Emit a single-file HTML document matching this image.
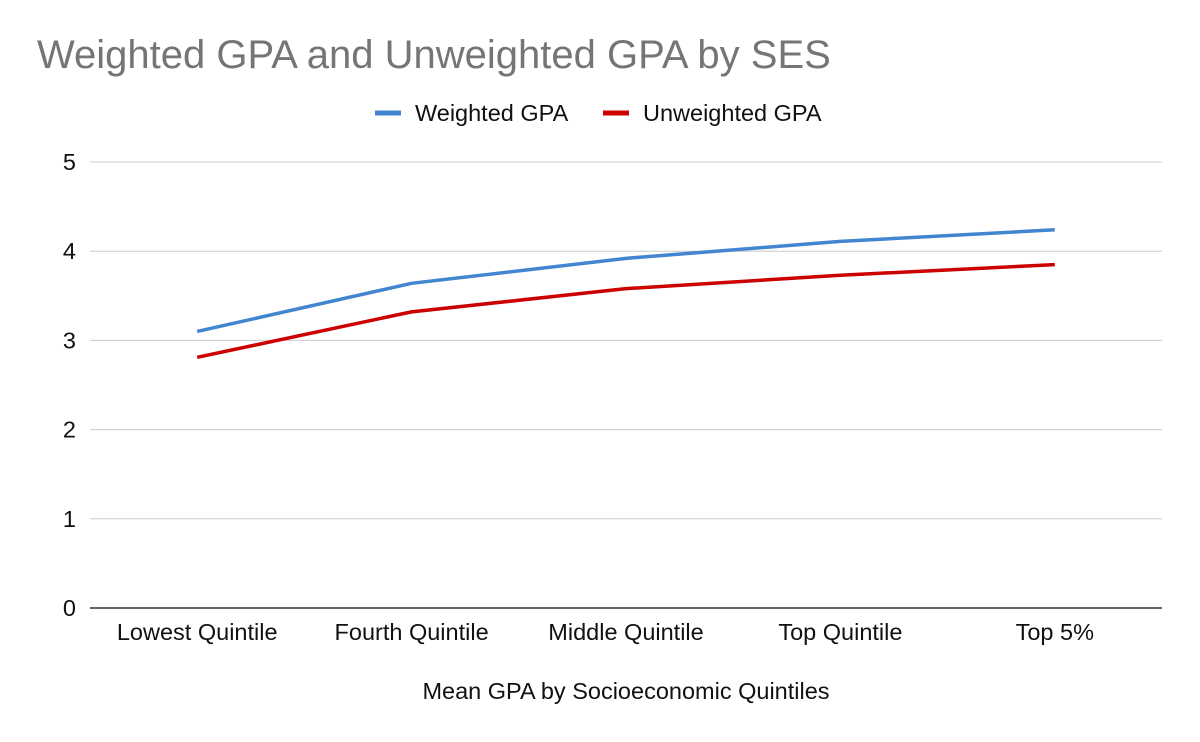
<!DOCTYPE html>
<html><head><meta charset="utf-8"><style>
html,body{margin:0;padding:0;background:#fff;}
svg{display:block;font-family:"Liberation Sans",Arial,sans-serif;}
</style></head><body>
<svg id="chart" width="1200" height="742">
<text x="37" y="68" font-size="40" fill="#757575">Weighted GPA and Unweighted GPA by SES</text>
<g>
<g><line x1="375" y1="113" x2="401" y2="113" stroke="#4285d0" stroke-width="5"/><text x="415" y="121" font-size="23.5" fill="#111">Weighted GPA</text></g>
<g><line x1="603" y1="113" x2="629" y2="113" stroke="#cc0000" stroke-width="5"/><text x="643" y="121" font-size="23.5" fill="#111">Unweighted GPA</text></g>
</g>
<g id="grid"></g><g id="xlabels"></g><g id="series"></g>
<text x="626" y="699" font-size="23.5" text-anchor="middle" fill="#111">Mean GPA by Socioeconomic Quintiles</text>
</svg>
<script>
const categories=["Lowest Quintile","Fourth Quintile","Middle Quintile","Top Quintile","Top 5%"];
const weighted=[3.10,3.64,3.92,4.11,4.24];
const unweighted=[2.81,3.32,3.58,3.73,3.85];
const yTicks=[0,1,2,3,4,5];
const NS="http://www.w3.org/2000/svg";
const L=90,R=1162,T=162,B=608,yMax=5;
const y=v=>B-(v/yMax)*(B-T);
const x=i=>L+(i+0.5)*(R-L)/categories.length;
function mk(t,a,p){const e=document.createElementNS(NS,t);for(const k in a)e.setAttribute(k,a[k]);p.appendChild(e);return e;}
const grid=document.getElementById('grid');
yTicks.forEach(v=>{
 const ln=mk('line',{x1:L,x2:R,y1:y(v),y2:y(v),stroke:v===0?'#333':'#ccc','stroke-width':v===0?1.5:1},grid);
 
 
 const t=mk('text',{x:76,y:y(v)+8,'font-size':23.5,'text-anchor':'end',fill:'#111'},grid);
 t.textContent=v;
 
 
});
const xl=document.getElementById('xlabels');
categories.forEach((c,i)=>{
 const t=mk('text',{x:x(i),y:640,'font-size':23.5,'text-anchor':'middle',fill:'#111'},xl);
 t.textContent=c;
 
 
});
const sg=document.getElementById('series');
[[weighted,'#4285d0','weighted-gpa-line'],[unweighted,'#cc0000','unweighted-gpa-line']].forEach(([d,col,n])=>{
 const p=mk('polyline',{points:d.map((v,i)=>x(i)+','+y(v)).join(' '),fill:'none',stroke:col,'stroke-width':3.5,'stroke-linejoin':'round'},sg);
 
 
});
</script>
</body></html>
